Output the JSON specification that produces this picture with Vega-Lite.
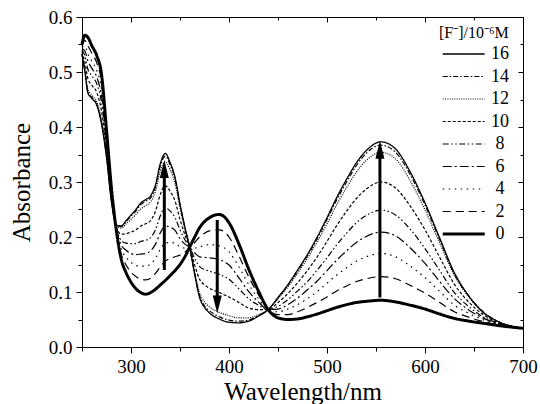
{
"$schema": "https://vega.github.io/schema/vega-lite/v6.json",
"width": 441, "height": 330,
"autosize": "none",
"padding": {"left": 82, "top": 17, "right": 17, "bottom": 57},
"background": "white",
"config": {
 "view": {"stroke": "black", "strokeWidth": 1},
 "font": "Liberation Serif",
 "axis": {"grid": false, "domainColor": "black", "tickColor": "black", "labelColor": "black", "titleColor": "black", "labelFont": "Liberation Serif", "titleFont": "Liberation Serif", "titleFontWeight": "normal", "labelFontSize": 19, "titleFontSize": 25, "labelFlush": false, "labelOverlap": false},
 "legend": {"orient": "none", "legendX": 357, "legendY": 8, "padding": 0, "symbolType": "M-1,0L7,0", "symbolSize": 110, "symbolStrokeColor": "black", "symbolFillColor": "transparent", "labelAlign": "center", "labelOffset": 43, "labelFontSize": 18, "labelFont": "Liberation Serif", "labelColor": "black", "titleFont": "Liberation Serif", "titleFontSize": 16, "titleFontWeight": "normal", "titleColor": "black", "titlePadding": 4, "rowPadding": 4.5}
},
"datasets": {
"arrows": [
 {"w": 334, "tail": 0.14, "neck": 0.322, "tip": 0.34, "dir": "up"},
 {"w": 388, "tail": 0.231, "neck": 0.079, "tip": 0.061, "dir": "down"},
 {"w": 554, "tail": 0.09, "neck": 0.357, "tip": 0.375, "dir": "up"}
],
"spectra": [
{"w":250,"c":"0","a":0.550},{"w":253,"c":"0","a":0.567},{"w":256,"c":"0","a":0.563},{"w":260,"c":"0","a":0.548},{"w":265,"c":"0","a":0.530},{"w":270,"c":"0","a":0.495},{"w":275,"c":"0","a":0.395},{"w":280,"c":"0","a":0.290},{"w":285,"c":"0","a":0.212},{"w":290,"c":"0","a":0.160},{"w":295,"c":"0","a":0.135},{"w":300,"c":"0","a":0.118},{"w":305,"c":"0","a":0.106},{"w":310,"c":"0","a":0.099},{"w":315,"c":"0","a":0.096},{"w":320,"c":"0","a":0.099},{"w":325,"c":"0","a":0.105},{"w":330,"c":"0","a":0.113},{"w":335,"c":"0","a":0.121},{"w":340,"c":"0","a":0.130},{"w":345,"c":"0","a":0.139},{"w":350,"c":"0","a":0.150},{"w":355,"c":"0","a":0.164},{"w":360,"c":"0","a":0.182},{"w":365,"c":"0","a":0.200},{"w":370,"c":"0","a":0.217},{"w":375,"c":"0","a":0.228},{"w":380,"c":"0","a":0.235},{"w":385,"c":"0","a":0.2395},{"w":390,"c":"0","a":0.241},{"w":395,"c":"0","a":0.237},{"w":400,"c":"0","a":0.226},{"w":410,"c":"0","a":0.188},{"w":420,"c":"0","a":0.142},{"w":430,"c":"0","a":0.102},{"w":440,"c":"0","a":0.068},{"w":450,"c":"0","a":0.053},{"w":460,"c":"0","a":0.050},{"w":470,"c":"0","a":0.051},{"w":480,"c":"0","a":0.055},{"w":490,"c":"0","a":0.060},{"w":500,"c":"0","a":0.066},{"w":510,"c":"0","a":0.072},{"w":520,"c":"0","a":0.077},{"w":530,"c":"0","a":0.081},{"w":540,"c":"0","a":0.083},{"w":555,"c":"0","a":0.085},{"w":570,"c":"0","a":0.082},{"w":585,"c":"0","a":0.076},{"w":600,"c":"0","a":0.069},{"w":615,"c":"0","a":0.060},{"w":630,"c":"0","a":0.052},{"w":645,"c":"0","a":0.047},{"w":660,"c":"0","a":0.043},{"w":675,"c":"0","a":0.039},{"w":700,"c":"0","a":0.034},
{"w":250,"c":"2","a":0.547},{"w":253,"c":"2","a":0.557},{"w":256,"c":"2","a":0.548},{"w":260,"c":"2","a":0.534},{"w":265,"c":"2","a":0.517},{"w":270,"c":"2","a":0.482},{"w":275,"c":"2","a":0.388},{"w":280,"c":"2","a":0.286},{"w":285,"c":"2","a":0.214},{"w":290,"c":"2","a":0.169},{"w":295,"c":"2","a":0.149},{"w":300,"c":"2","a":0.136},{"w":305,"c":"2","a":0.128},{"w":310,"c":"2","a":0.123},{"w":315,"c":"2","a":0.122},{"w":320,"c":"2","a":0.125},{"w":325,"c":"2","a":0.134},{"w":330,"c":"2","a":0.146},{"w":335,"c":"2","a":0.156},{"w":340,"c":"2","a":0.161},{"w":345,"c":"2","a":0.164},{"w":350,"c":"2","a":0.167},{"w":355,"c":"2","a":0.172},{"w":360,"c":"2","a":0.182},{"w":365,"c":"2","a":0.190},{"w":370,"c":"2","a":0.200},{"w":375,"c":"2","a":0.207},{"w":380,"c":"2","a":0.211},{"w":390,"c":"2","a":0.213},{"w":400,"c":"2","a":0.200},{"w":410,"c":"2","a":0.166},{"w":420,"c":"2","a":0.128},{"w":430,"c":"2","a":0.095},{"w":440,"c":"2","a":0.068},{"w":450,"c":"2","a":0.059},{"w":460,"c":"2","a":0.059},{"w":470,"c":"2","a":0.064},{"w":480,"c":"2","a":0.072},{"w":490,"c":"2","a":0.081},{"w":500,"c":"2","a":0.091},{"w":510,"c":"2","a":0.102},{"w":520,"c":"2","a":0.111},{"w":530,"c":"2","a":0.119},{"w":540,"c":"2","a":0.124},{"w":555,"c":"2","a":0.128},{"w":570,"c":"2","a":0.124},{"w":585,"c":"2","a":0.112},{"w":600,"c":"2","a":0.098},{"w":615,"c":"2","a":0.081},{"w":630,"c":"2","a":0.064},{"w":645,"c":"2","a":0.054},{"w":660,"c":"2","a":0.046},{"w":675,"c":"2","a":0.040},{"w":700,"c":"2","a":0.034},
{"w":250,"c":"4","a":0.545},{"w":253,"c":"4","a":0.547},{"w":256,"c":"4","a":0.533},{"w":260,"c":"4","a":0.520},{"w":265,"c":"4","a":0.503},{"w":270,"c":"4","a":0.468},{"w":275,"c":"4","a":0.380},{"w":280,"c":"4","a":0.283},{"w":285,"c":"4","a":0.215},{"w":290,"c":"4","a":0.178},{"w":295,"c":"4","a":0.163},{"w":300,"c":"4","a":0.154},{"w":305,"c":"4","a":0.148},{"w":310,"c":"4","a":0.147},{"w":315,"c":"4","a":0.147},{"w":320,"c":"4","a":0.151},{"w":325,"c":"4","a":0.161},{"w":330,"c":"4","a":0.178},{"w":335,"c":"4","a":0.189},{"w":340,"c":"4","a":0.190},{"w":345,"c":"4","a":0.189},{"w":350,"c":"4","a":0.182},{"w":355,"c":"4","a":0.180},{"w":360,"c":"4","a":0.181},{"w":365,"c":"4","a":0.180},{"w":370,"c":"4","a":0.182},{"w":375,"c":"4","a":0.185},{"w":380,"c":"4","a":0.186},{"w":390,"c":"4","a":0.184},{"w":400,"c":"4","a":0.173},{"w":410,"c":"4","a":0.146},{"w":420,"c":"4","a":0.114},{"w":430,"c":"4","a":0.088},{"w":440,"c":"4","a":0.068},{"w":450,"c":"4","a":0.064},{"w":460,"c":"4","a":0.069},{"w":470,"c":"4","a":0.077},{"w":480,"c":"4","a":0.088},{"w":490,"c":"4","a":0.101},{"w":500,"c":"4","a":0.116},{"w":510,"c":"4","a":0.131},{"w":520,"c":"4","a":0.144},{"w":530,"c":"4","a":0.156},{"w":540,"c":"4","a":0.164},{"w":555,"c":"4","a":0.170},{"w":570,"c":"4","a":0.164},{"w":585,"c":"4","a":0.147},{"w":600,"c":"4","a":0.126},{"w":615,"c":"4","a":0.101},{"w":630,"c":"4","a":0.076},{"w":645,"c":"4","a":0.061},{"w":660,"c":"4","a":0.049},{"w":675,"c":"4","a":0.041},{"w":700,"c":"4","a":0.034},
{"w":250,"c":"6","a":0.542},{"w":253,"c":"6","a":0.538},{"w":256,"c":"6","a":0.520},{"w":260,"c":"6","a":0.507},{"w":265,"c":"6","a":0.491},{"w":270,"c":"6","a":0.456},{"w":275,"c":"6","a":0.374},{"w":280,"c":"6","a":0.279},{"w":285,"c":"6","a":0.216},{"w":290,"c":"6","a":0.186},{"w":295,"c":"6","a":0.176},{"w":300,"c":"6","a":0.170},{"w":305,"c":"6","a":0.168},{"w":310,"c":"6","a":0.169},{"w":315,"c":"6","a":0.170},{"w":320,"c":"6","a":0.175},{"w":325,"c":"6","a":0.187},{"w":330,"c":"6","a":0.208},{"w":335,"c":"6","a":0.220},{"w":340,"c":"6","a":0.218},{"w":345,"c":"6","a":0.212},{"w":350,"c":"6","a":0.197},{"w":355,"c":"6","a":0.187},{"w":360,"c":"6","a":0.181},{"w":365,"c":"6","a":0.171},{"w":370,"c":"6","a":0.164},{"w":375,"c":"6","a":0.163},{"w":380,"c":"6","a":0.162},{"w":390,"c":"6","a":0.159},{"w":400,"c":"6","a":0.149},{"w":410,"c":"6","a":0.126},{"w":420,"c":"6","a":0.101},{"w":430,"c":"6","a":0.082},{"w":440,"c":"6","a":0.068},{"w":450,"c":"6","a":0.069},{"w":460,"c":"6","a":0.077},{"w":470,"c":"6","a":0.089},{"w":480,"c":"6","a":0.104},{"w":490,"c":"6","a":0.120},{"w":500,"c":"6","a":0.139},{"w":510,"c":"6","a":0.158},{"w":520,"c":"6","a":0.175},{"w":530,"c":"6","a":0.190},{"w":540,"c":"6","a":0.201},{"w":555,"c":"6","a":0.209},{"w":570,"c":"6","a":0.202},{"w":585,"c":"6","a":0.180},{"w":600,"c":"6","a":0.152},{"w":615,"c":"6","a":0.119},{"w":630,"c":"6","a":0.088},{"w":645,"c":"6","a":0.067},{"w":660,"c":"6","a":0.052},{"w":675,"c":"6","a":0.042},{"w":700,"c":"6","a":0.034},
{"w":250,"c":"8","a":0.540},{"w":253,"c":"8","a":0.529},{"w":256,"c":"8","a":0.505},{"w":260,"c":"8","a":0.493},{"w":265,"c":"8","a":0.479},{"w":270,"c":"8","a":0.444},{"w":275,"c":"8","a":0.367},{"w":280,"c":"8","a":0.276},{"w":285,"c":"8","a":0.218},{"w":290,"c":"8","a":0.194},{"w":295,"c":"8","a":0.189},{"w":300,"c":"8","a":0.188},{"w":305,"c":"8","a":0.188},{"w":310,"c":"8","a":0.192},{"w":315,"c":"8","a":0.194},{"w":320,"c":"8","a":0.199},{"w":325,"c":"8","a":0.213},{"w":330,"c":"8","a":0.239},{"w":335,"c":"8","a":0.253},{"w":340,"c":"8","a":0.247},{"w":345,"c":"8","a":0.235},{"w":350,"c":"8","a":0.213},{"w":355,"c":"8","a":0.195},{"w":360,"c":"8","a":0.181},{"w":365,"c":"8","a":0.161},{"w":370,"c":"8","a":0.146},{"w":375,"c":"8","a":0.141},{"w":380,"c":"8","a":0.138},{"w":390,"c":"8","a":0.132},{"w":400,"c":"8","a":0.123},{"w":410,"c":"8","a":0.106},{"w":420,"c":"8","a":0.088},{"w":430,"c":"8","a":0.076},{"w":440,"c":"8","a":0.068},{"w":450,"c":"8","a":0.074},{"w":460,"c":"8","a":0.086},{"w":470,"c":"8","a":0.102},{"w":480,"c":"8","a":0.119},{"w":490,"c":"8","a":0.140},{"w":500,"c":"8","a":0.162},{"w":510,"c":"8","a":0.186},{"w":520,"c":"8","a":0.207},{"w":530,"c":"8","a":0.226},{"w":540,"c":"8","a":0.239},{"w":555,"c":"8","a":0.249},{"w":570,"c":"8","a":0.240},{"w":585,"c":"8","a":0.214},{"w":600,"c":"8","a":0.179},{"w":615,"c":"8","a":0.139},{"w":630,"c":"8","a":0.099},{"w":645,"c":"8","a":0.073},{"w":660,"c":"8","a":0.054},{"w":675,"c":"8","a":0.043},{"w":700,"c":"8","a":0.034},
{"w":250,"c":"10","a":0.537},{"w":253,"c":"10","a":0.517},{"w":256,"c":"10","a":0.488},{"w":260,"c":"10","a":0.476},{"w":265,"c":"10","a":0.463},{"w":270,"c":"10","a":0.428},{"w":275,"c":"10","a":0.358},{"w":280,"c":"10","a":0.271},{"w":285,"c":"10","a":0.219},{"w":290,"c":"10","a":0.205},{"w":295,"c":"10","a":0.206},{"w":300,"c":"10","a":0.209},{"w":305,"c":"10","a":0.213},{"w":310,"c":"10","a":0.220},{"w":315,"c":"10","a":0.224},{"w":320,"c":"10","a":0.230},{"w":325,"c":"10","a":0.247},{"w":330,"c":"10","a":0.278},{"w":335,"c":"10","a":0.293},{"w":340,"c":"10","a":0.283},{"w":345,"c":"10","a":0.265},{"w":350,"c":"10","a":0.232},{"w":355,"c":"10","a":0.204},{"w":360,"c":"10","a":0.181},{"w":365,"c":"10","a":0.149},{"w":370,"c":"10","a":0.123},{"w":375,"c":"10","a":0.113},{"w":380,"c":"10","a":0.107},{"w":390,"c":"10","a":0.099},{"w":400,"c":"10","a":0.091},{"w":410,"c":"10","a":0.081},{"w":420,"c":"10","a":0.071},{"w":430,"c":"10","a":0.068},{"w":440,"c":"10","a":0.068},{"w":450,"c":"10","a":0.081},{"w":460,"c":"10","a":0.097},{"w":470,"c":"10","a":0.117},{"w":480,"c":"10","a":0.139},{"w":490,"c":"10","a":0.164},{"w":500,"c":"10","a":0.192},{"w":510,"c":"10","a":0.221},{"w":520,"c":"10","a":0.247},{"w":530,"c":"10","a":0.270},{"w":540,"c":"10","a":0.287},{"w":555,"c":"10","a":0.300},{"w":570,"c":"10","a":0.289},{"w":585,"c":"10","a":0.256},{"w":600,"c":"10","a":0.213},{"w":615,"c":"10","a":0.163},{"w":630,"c":"10","a":0.114},{"w":645,"c":"10","a":0.081},{"w":660,"c":"10","a":0.058},{"w":675,"c":"10","a":0.044},{"w":700,"c":"10","a":0.034},
{"w":250,"c":"12","a":0.533},{"w":253,"c":"12","a":0.504},{"w":256,"c":"12","a":0.469},{"w":260,"c":"12","a":0.458},{"w":265,"c":"12","a":0.446},{"w":270,"c":"12","a":0.411},{"w":275,"c":"12","a":0.348},{"w":280,"c":"12","a":0.267},{"w":285,"c":"12","a":0.221},{"w":290,"c":"12","a":0.216},{"w":295,"c":"12","a":0.224},{"w":300,"c":"12","a":0.232},{"w":305,"c":"12","a":0.241},{"w":310,"c":"12","a":0.251},{"w":315,"c":"12","a":0.257},{"w":320,"c":"12","a":0.264},{"w":325,"c":"12","a":0.283},{"w":330,"c":"12","a":0.320},{"w":335,"c":"12","a":0.337},{"w":340,"c":"12","a":0.322},{"w":345,"c":"12","a":0.297},{"w":350,"c":"12","a":0.253},{"w":355,"c":"12","a":0.214},{"w":360,"c":"12","a":0.180},{"w":365,"c":"12","a":0.136},{"w":370,"c":"12","a":0.098},{"w":375,"c":"12","a":0.082},{"w":380,"c":"12","a":0.073},{"w":390,"c":"12","a":0.063},{"w":400,"c":"12","a":0.057},{"w":410,"c":"12","a":0.053},{"w":420,"c":"12","a":0.053},{"w":430,"c":"12","a":0.059},{"w":440,"c":"12","a":0.068},{"w":450,"c":"12","a":0.088},{"w":460,"c":"12","a":0.109},{"w":470,"c":"12","a":0.134},{"w":480,"c":"12","a":0.161},{"w":490,"c":"12","a":0.191},{"w":500,"c":"12","a":0.224},{"w":510,"c":"12","a":0.259},{"w":520,"c":"12","a":0.290},{"w":530,"c":"12","a":0.318},{"w":540,"c":"12","a":0.339},{"w":555,"c":"12","a":0.354},{"w":570,"c":"12","a":0.342},{"w":585,"c":"12","a":0.302},{"w":600,"c":"12","a":0.249},{"w":615,"c":"12","a":0.189},{"w":630,"c":"12","a":0.130},{"w":645,"c":"12","a":0.090},{"w":660,"c":"12","a":0.062},{"w":675,"c":"12","a":0.046},{"w":700,"c":"12","a":0.034},
{"w":250,"c":"14","a":0.532},{"w":253,"c":"14","a":0.501},{"w":256,"c":"14","a":0.464},{"w":260,"c":"14","a":0.454},{"w":265,"c":"14","a":0.442},{"w":270,"c":"14","a":0.407},{"w":275,"c":"14","a":0.346},{"w":280,"c":"14","a":0.266},{"w":285,"c":"14","a":0.222},{"w":290,"c":"14","a":0.219},{"w":295,"c":"14","a":0.228},{"w":300,"c":"14","a":0.238},{"w":305,"c":"14","a":0.247},{"w":310,"c":"14","a":0.259},{"w":315,"c":"14","a":0.265},{"w":320,"c":"14","a":0.271},{"w":325,"c":"14","a":0.291},{"w":330,"c":"14","a":0.330},{"w":335,"c":"14","a":0.347},{"w":340,"c":"14","a":0.331},{"w":345,"c":"14","a":0.305},{"w":350,"c":"14","a":0.258},{"w":355,"c":"14","a":0.217},{"w":360,"c":"14","a":0.180},{"w":365,"c":"14","a":0.133},{"w":370,"c":"14","a":0.093},{"w":375,"c":"14","a":0.075},{"w":380,"c":"14","a":0.066},{"w":390,"c":"14","a":0.055},{"w":400,"c":"14","a":0.049},{"w":410,"c":"14","a":0.047},{"w":420,"c":"14","a":0.049},{"w":430,"c":"14","a":0.057},{"w":440,"c":"14","a":0.068},{"w":450,"c":"14","a":0.089},{"w":460,"c":"14","a":0.112},{"w":470,"c":"14","a":0.138},{"w":480,"c":"14","a":0.166},{"w":490,"c":"14","a":0.197},{"w":500,"c":"14","a":0.232},{"w":510,"c":"14","a":0.268},{"w":520,"c":"14","a":0.300},{"w":530,"c":"14","a":0.330},{"w":540,"c":"14","a":0.352},{"w":555,"c":"14","a":0.367},{"w":570,"c":"14","a":0.354},{"w":585,"c":"14","a":0.313},{"w":600,"c":"14","a":0.258},{"w":615,"c":"14","a":0.195},{"w":630,"c":"14","a":0.133},{"w":645,"c":"14","a":0.092},{"w":660,"c":"14","a":0.063},{"w":675,"c":"14","a":0.046},{"w":700,"c":"14","a":0.034},
{"w":250,"c":"16","a":0.532},{"w":253,"c":"16","a":0.500},{"w":256,"c":"16","a":0.462},{"w":260,"c":"16","a":0.452},{"w":265,"c":"16","a":0.440},{"w":270,"c":"16","a":0.405},{"w":275,"c":"16","a":0.345},{"w":280,"c":"16","a":0.265},{"w":285,"c":"16","a":0.222},{"w":290,"c":"16","a":0.220},{"w":295,"c":"16","a":0.230},{"w":300,"c":"16","a":0.240},{"w":305,"c":"16","a":0.250},{"w":310,"c":"16","a":0.262},{"w":315,"c":"16","a":0.268},{"w":320,"c":"16","a":0.275},{"w":325,"c":"16","a":0.295},{"w":330,"c":"16","a":0.334},{"w":335,"c":"16","a":0.352},{"w":340,"c":"16","a":0.335},{"w":345,"c":"16","a":0.308},{"w":350,"c":"16","a":0.260},{"w":355,"c":"16","a":0.218},{"w":360,"c":"16","a":0.180},{"w":365,"c":"16","a":0.132},{"w":370,"c":"16","a":0.090},{"w":375,"c":"16","a":0.072},{"w":380,"c":"16","a":0.062},{"w":390,"c":"16","a":0.051},{"w":400,"c":"16","a":0.045},{"w":410,"c":"16","a":0.044},{"w":420,"c":"16","a":0.047},{"w":430,"c":"16","a":0.056},{"w":440,"c":"16","a":0.068},{"w":450,"c":"16","a":0.090},{"w":460,"c":"16","a":0.113},{"w":470,"c":"16","a":0.140},{"w":480,"c":"16","a":0.168},{"w":490,"c":"16","a":0.200},{"w":500,"c":"16","a":0.235},{"w":510,"c":"16","a":0.272},{"w":520,"c":"16","a":0.305},{"w":530,"c":"16","a":0.335},{"w":540,"c":"16","a":0.357},{"w":555,"c":"16","a":0.373},{"w":570,"c":"16","a":0.360},{"w":585,"c":"16","a":0.318},{"w":600,"c":"16","a":0.262},{"w":615,"c":"16","a":0.198},{"w":630,"c":"16","a":0.135},{"w":645,"c":"16","a":0.092},{"w":660,"c":"16","a":0.062},{"w":675,"c":"16","a":0.046},{"w":700,"c":"16","a":0.034}
]
},
"layer": [
 {
  "data": {"name": "spectra"},
  "mark": {"type": "line", "interpolate": "monotone", "color": "black"},
  "encoding": {
   "x": {"field": "w", "type": "quantitative", "scale": {"domain": [250, 700], "nice": false, "zero": false},
     "axis": {"orient": "bottom", "title": "Wavelength/nm", "values": [250,300,350,400,450,500,550,600,650,700], "format": "d",
       "labelExpr": "datum.value % 100 === 0 ? datum.label : ''",
       "tickSize": {"condition": {"test": "datum.value % 100 === 0", "value": 6}, "value": 4},
       "labelPadding": 4, "titlePadding": 3}},
   "y": {"field": "a", "type": "quantitative", "scale": {"domain": [0, 0.6], "nice": false},
     "axis": {"orient": "left", "title": "Absorbance", "values": [0,0.05,0.1,0.15,0.2,0.25,0.3,0.35,0.4,0.45,0.5,0.55,0.6],
       "labelExpr": "round(datum.value*20) % 2 === 0 ? format(datum.value, '.1f') : ''",
       "tickSize": {"condition": {"test": "round(datum.value*20) % 2 === 0", "value": 6}, "value": 4},
       "labelPadding": 4, "titlePadding": 14}},
   "strokeDash": {"field": "c", "type": "ordinal",
     "scale": {"domain": ["16","14","12","10","8","6","4","2","0"],
       "range": [[1,0],[5,2,1.5,2],[1,1.3],[3,2],[6,2.5,1.5,2.5,1.5,2.5],[9,3,2,3],[1.5,4.5],[8,5],[1,0]]},
     "legend": {"title": "[F⁻]/10⁻⁶M"}},
   "strokeWidth": {"field": "c", "type": "ordinal",
     "scale": {"type": "ordinal", "domain": ["16","14","12","10","8","6","4","2","0"], "range": [1.3,1.2,1.2,1.2,1.2,1.2,1.2,1.2,3]},
     "legend": {"title": "[F⁻]/10⁻⁶M"}}
  }
 },
 {
  "data": {"name": "arrows"},
  "mark": {"type": "rule", "strokeWidth": 3, "color": "black"},
  "encoding": {
   "x": {"field": "w", "type": "quantitative",
     "axis": {"orient": "top", "title": null, "labels": false, "values": [250,300,350,400,450,500,550,600,650,700],
       "tickSize": {"condition": {"test": "datum.value % 100 === 0", "value": -5}, "value": -3}}},
   "y": {"field": "tail", "type": "quantitative",
     "axis": {"orient": "right", "title": null, "labels": false, "values": [0,0.05,0.1,0.15,0.2,0.25,0.3,0.35,0.4,0.45,0.5,0.55,0.6],
       "tickSize": {"condition": {"test": "round(datum.value*20) % 2 === 0", "value": -5}, "value": -3}}},
   "y2": {"field": "neck"}
  }
 },
 {
  "data": {"name": "arrows"},
  "mark": {"type": "point", "filled": true, "color": "black", "opacity": 1, "size": 225, "strokeWidth": 0},
  "encoding": {
   "x": {"field": "w", "type": "quantitative", "axis": null},
   "y": {"field": "tip", "type": "quantitative", "axis": null},
   "shape": {"field": "dir", "type": "nominal",
     "scale": {"domain": ["up", "down"], "range": ["M0,0L0.6,2.4L-0.6,2.4Z", "M0,0L0.6,-2.4L-0.6,-2.4Z"]},
     "legend": null}
  }
 }
],
"resolve": {"axis": {"x": "independent", "y": "independent"}}
}
